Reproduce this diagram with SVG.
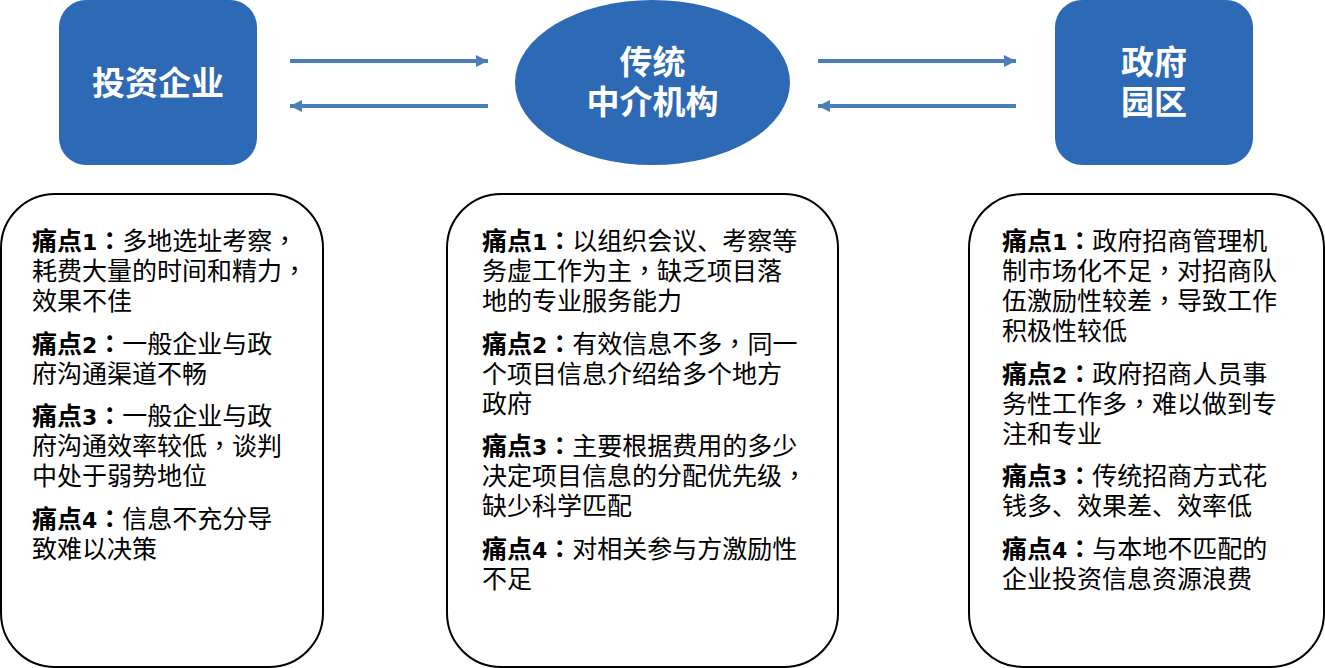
<svg xmlns="http://www.w3.org/2000/svg" width="1325" height="668" viewBox="0 0 1325 668">
<style>
.fill{fill:#2e69b5}
.card{fill:#fff;stroke:#000;stroke-width:2}
.title{font:bold 33px "Noto Sans CJK SC","DejaVu Sans",sans-serif;fill:#fff;text-anchor:middle}
.body{font:25px "DejaVu Sans","Noto Sans CJK SC",sans-serif;fill:#000}
.body tspan.b{font-weight:bold}
.body tspan.n{font-size:22px}
.body tspan.p{font-family:"Noto Sans CJK TC",sans-serif}
.arrow{stroke:#4a7ebb;stroke-width:4;fill:none}
</style>
<defs>
<marker id="ah" markerUnits="userSpaceOnUse" markerWidth="12" markerHeight="12" refX="12" refY="6" orient="auto-start-reverse"><path d="M0 0L12 6L0 12z" fill="#4a7ebb"/></marker>
</defs>
<g id="connectors">
<path class="arrow" d="M290 61H488" marker-end="url(#ah)"/>
<path class="arrow" d="M488 106H290" marker-end="url(#ah)"/>
<path class="arrow" d="M818 61H1016" marker-end="url(#ah)"/>
<path class="arrow" d="M1016 106H818" marker-end="url(#ah)"/>
</g>
<g id="node-investor"><rect class="fill" x="59" y="0" width="198" height="165" rx="27"/><text class="title" x="158" y="95">投资企业</text></g>
<g id="node-agency"><ellipse class="fill" cx="652.500" cy="82.500" rx="137.500" ry="82.500"/><text class="title" x="652.500" y="74">传统</text><text class="title" x="652.500" y="114">中介机构</text></g>
<g id="node-gov"><rect class="fill" x="1055" y="0" width="198" height="165" rx="27"/><text class="title" x="1154" y="74">政府</text><text class="title" x="1154" y="114">园区</text></g>
<g id="card-investor"><rect class="card" x="1" y="194" width="322" height="473" rx="54"/>
<text class="body" x="32" y="250"><tspan class="b">痛点<tspan class="n">1</tspan><tspan class="p">：</tspan></tspan>多地选址考察<tspan class="p">，</tspan></text>
<text class="body" x="32" y="280">耗费大量的时间和精力<tspan class="p">，</tspan></text>
<text class="body" x="32" y="310">效果不佳</text>
<text class="body" x="32" y="353"><tspan class="b">痛点<tspan class="n">2</tspan><tspan class="p">：</tspan></tspan>一般企业与政</text>
<text class="body" x="32" y="383">府沟通渠道不畅</text>
<text class="body" x="32" y="425"><tspan class="b">痛点<tspan class="n">3</tspan><tspan class="p">：</tspan></tspan>一般企业与政</text>
<text class="body" x="32" y="455">府沟通效率较低<tspan class="p">，</tspan>谈判</text>
<text class="body" x="32" y="485">中处于弱势地位</text>
<text class="body" x="32" y="528"><tspan class="b">痛点<tspan class="n">4</tspan><tspan class="p">：</tspan></tspan>信息不充分导</text>
<text class="body" x="32" y="558">致难以决策</text>
</g>
<g id="card-agency"><rect class="card" x="447" y="194" width="391" height="473" rx="54"/>
<text class="body" x="482" y="250"><tspan class="b">痛点<tspan class="n">1</tspan><tspan class="p">：</tspan></tspan>以组织会议、考察等</text>
<text class="body" x="482" y="280">务虚工作为主<tspan class="p">，</tspan>缺乏项目落</text>
<text class="body" x="482" y="310">地的专业服务能力</text>
<text class="body" x="482" y="353"><tspan class="b">痛点<tspan class="n">2</tspan><tspan class="p">：</tspan></tspan>有效信息不多<tspan class="p">，</tspan>同一</text>
<text class="body" x="482" y="383">个项目信息介绍给多个地方</text>
<text class="body" x="482" y="413">政府</text>
<text class="body" x="482" y="455"><tspan class="b">痛点<tspan class="n">3</tspan><tspan class="p">：</tspan></tspan>主要根据费用的多少</text>
<text class="body" x="482" y="485">决定项目信息的分配优先级<tspan class="p">，</tspan></text>
<text class="body" x="482" y="515">缺少科学匹配</text>
<text class="body" x="482" y="558"><tspan class="b">痛点<tspan class="n">4</tspan><tspan class="p">：</tspan></tspan>对相关参与方激励性</text>
<text class="body" x="482" y="588">不足</text>
</g>
<g id="card-gov"><rect class="card" x="969" y="194" width="355" height="473" rx="54"/>
<text class="body" x="1002" y="250"><tspan class="b">痛点<tspan class="n">1</tspan><tspan class="p">：</tspan></tspan>政府招商管理机</text>
<text class="body" x="1002" y="280">制市场化不足<tspan class="p">，</tspan>对招商队</text>
<text class="body" x="1002" y="310">伍激励性较差<tspan class="p">，</tspan>导致工作</text>
<text class="body" x="1002" y="340">积极性较低</text>
<text class="body" x="1002" y="383"><tspan class="b">痛点<tspan class="n">2</tspan><tspan class="p">：</tspan></tspan>政府招商人员事</text>
<text class="body" x="1002" y="413">务性工作多<tspan class="p">，</tspan>难以做到专</text>
<text class="body" x="1002" y="443">注和专业</text>
<text class="body" x="1002" y="485"><tspan class="b">痛点<tspan class="n">3</tspan><tspan class="p">：</tspan></tspan>传统招商方式花</text>
<text class="body" x="1002" y="515">钱多、效果差、效率低</text>
<text class="body" x="1002" y="558"><tspan class="b">痛点<tspan class="n">4</tspan><tspan class="p">：</tspan></tspan>与本地不匹配的</text>
<text class="body" x="1002" y="588">企业投资信息资源浪费</text>
</g>
</svg>
